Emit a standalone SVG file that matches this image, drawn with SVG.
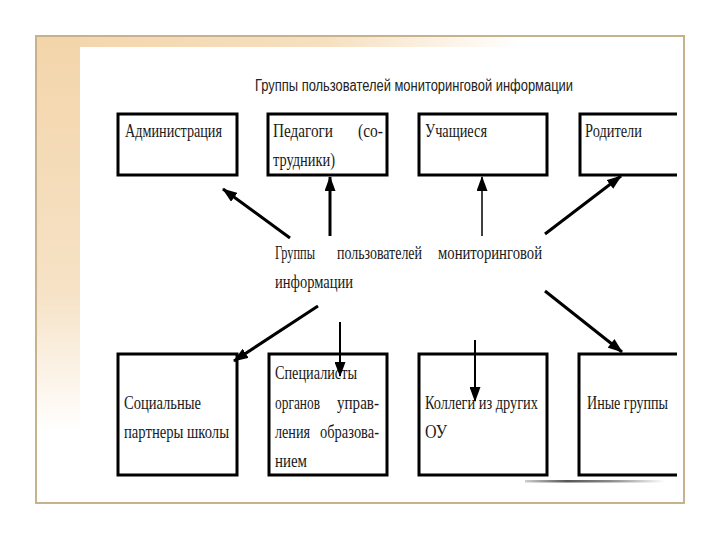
<svg xmlns="http://www.w3.org/2000/svg" width="720" height="540" viewBox="0 0 720 540">
<defs>
<linearGradient id="topBand" x1="0" y1="0" x2="1" y2="0">
<stop offset="0" stop-color="#f3d5aa"/>
<stop offset="0.45" stop-color="#f6e0c0"/>
<stop offset="0.75" stop-color="#ffffff"/>
</linearGradient>
<linearGradient id="leftBand" x1="0" y1="0" x2="0" y2="1">
<stop offset="0" stop-color="#f3d5aa"/>
<stop offset="0.55" stop-color="#f6e2c6"/>
<stop offset="0.85" stop-color="#ffffff"/>
</linearGradient>
<linearGradient id="shadow" x1="0" y1="0" x2="1" y2="0">
<stop offset="0" stop-color="#cfcfcf"/>
<stop offset="0.3" stop-color="#555555"/>
<stop offset="0.6" stop-color="#888888"/>
<stop offset="1" stop-color="#ffffff"/>
</linearGradient>
<marker id="ah" markerUnits="userSpaceOnUse" markerWidth="15" markerHeight="11" refX="14" refY="5.5" orient="auto">
<path d="M0,0 L15,5.5 L0,11 z" fill="#000"/>
</marker>
<style>
.box{fill:#fff;stroke:#000;stroke-width:3}
.open{fill:none;stroke:#000;stroke-width:3}
.t{font-family:"Liberation Serif","Times New Roman",serif;font-size:19px;fill:#1a1a1a}
.title{font-family:"Liberation Sans Narrow","Liberation Sans",Arial,sans-serif;font-size:16px;fill:#222}
.c{stroke:#000;fill:none}
</style>
</defs>

<rect x="0" y="0" width="720" height="540" fill="#fff"/>
<rect x="36" y="36" width="648" height="11" fill="url(#topBand)"/>
<rect x="36" y="36" width="44" height="467" fill="url(#leftBand)"/>
<rect x="36" y="36" width="648" height="467" fill="none" stroke="#c6b38d" stroke-width="2"/>
<rect x="525" y="480" width="140" height="2.5" fill="url(#shadow)"/>

<text class="title" x="255" y="91" textLength="318" lengthAdjust="spacingAndGlyphs">Группы пользователей мониторинговой информации</text>

<g id="admin">
<rect class="box" x="118" y="114" width="119" height="61"/>
<text class="t" x="125" y="137" textLength="97" lengthAdjust="spacingAndGlyphs">Администрация</text>
</g>
<g id="pedagogi">
<rect class="box" x="268" y="114" width="119" height="61"/>
<text class="t" x="273" y="137" textLength="60" lengthAdjust="spacingAndGlyphs">Педагоги</text>
<text class="t" x="358" y="137" textLength="25" lengthAdjust="spacingAndGlyphs">(со-</text>
<text class="t" x="273" y="166" textLength="62" lengthAdjust="spacingAndGlyphs">трудники)</text>
</g>
<g id="uchashchiesya">
<rect class="box" x="419" y="114" width="128" height="61"/>
<text class="t" x="425" y="137" textLength="62" lengthAdjust="spacingAndGlyphs">Учащиеся</text>
</g>
<g id="roditeli">
<path class="open" d="M677,114 H580 V175 H677"/>
<text class="t" x="585" y="137" textLength="57" lengthAdjust="spacingAndGlyphs">Родители</text>
</g>

<g id="center">
<text class="t" transform="translate(275,259) scale(0.75,1)" textLength="53.3" lengthAdjust="spacingAndGlyphs">Группы</text>
<text class="t" transform="translate(337,259) scale(0.75,1)" textLength="113.3" lengthAdjust="spacingAndGlyphs">пользователей</text>
<text class="t" transform="translate(438,259) scale(0.75,1)" textLength="138.7" lengthAdjust="spacingAndGlyphs">мониторинговой</text>
<text class="t" transform="translate(275,288) scale(0.75,1)" textLength="104" lengthAdjust="spacingAndGlyphs">информации</text>
</g>

<g id="social">
<rect class="box" x="118" y="354" width="119" height="121"/>
<text class="t" x="124" y="409" textLength="77" lengthAdjust="spacingAndGlyphs">Социальные</text>
<text class="t" x="124" y="438" textLength="105" lengthAdjust="spacingAndGlyphs">партнеры школы</text>
</g>
<g id="specialists">
<rect class="box" x="269" y="354" width="118" height="121"/>
<text class="t" x="275" y="379" textLength="82" lengthAdjust="spacingAndGlyphs">Специалисты</text>
<text class="t" x="275" y="409" textLength="45" lengthAdjust="spacingAndGlyphs">органов</text>
<text class="t" x="337" y="409" textLength="42" lengthAdjust="spacingAndGlyphs">управ-</text>
<text class="t" x="275" y="438" textLength="35" lengthAdjust="spacingAndGlyphs">ления</text>
<text class="t" x="320" y="438" textLength="59" lengthAdjust="spacingAndGlyphs">образова-</text>
<text class="t" x="275" y="467" textLength="32" lengthAdjust="spacingAndGlyphs">нием</text>
</g>
<g id="kollegi">
<rect class="box" x="419" y="354" width="128" height="121"/>
<text class="t" x="425" y="409" textLength="113" lengthAdjust="spacingAndGlyphs">Коллеги из других</text>
<text class="t" x="425" y="438" textLength="22" lengthAdjust="spacingAndGlyphs">ОУ</text>
</g>
<g id="inye">
<path class="open" d="M677,354 H579 V475 H677"/>
<text class="t" x="587" y="409" textLength="81" lengthAdjust="spacingAndGlyphs">Иные группы</text>
</g>

<g id="connectors">
<line class="c" stroke-width="3" x1="290" y1="238" x2="223" y2="189" marker-end="url(#ah)"/>
<line class="c" stroke-width="3" x1="330" y1="236" x2="330" y2="177" marker-end="url(#ah)"/>
<line class="c" stroke-width="1.5" x1="482" y1="236" x2="482" y2="177" marker-end="url(#ah)"/>
<line class="c" stroke-width="3" x1="545" y1="234" x2="621" y2="176" marker-end="url(#ah)"/>
<line class="c" stroke-width="3" x1="545" y1="291" x2="622" y2="352" marker-end="url(#ah)"/>
<line class="c" stroke-width="3" x1="318" y1="306" x2="234" y2="361" marker-end="url(#ah)"/>
<line class="c" stroke-width="2" x1="340" y1="322" x2="340" y2="376" marker-end="url(#ah)"/>
<line class="c" stroke-width="2" x1="475" y1="340" x2="475" y2="401" marker-end="url(#ah)"/>
</g>
</svg>
